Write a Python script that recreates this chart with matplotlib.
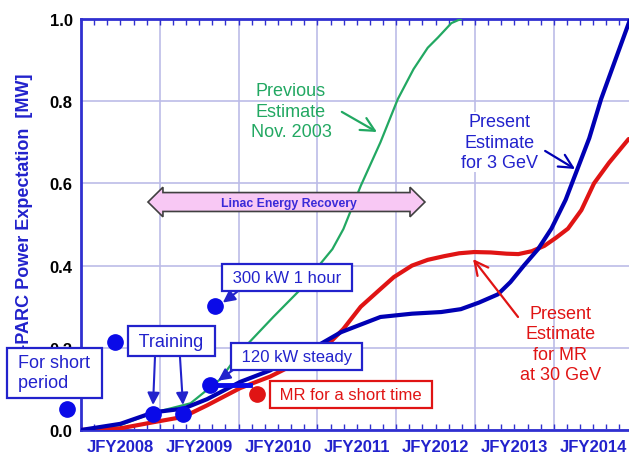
import matplotlib
matplotlib.use("Agg")
import matplotlib.pyplot as plt
from matplotlib.ticker import MultipleLocator, FixedLocator
from matplotlib.patches import Polygon
from matplotlib import transforms

plt.rcParams['font.family'] = ['Liberation Sans', 'DejaVu Sans']

# ---------------- data ----------------
years = [2008, 2009, 2010, 2011, 2012, 2013, 2014]
year_labels = ['JFY2008', 'JFY2009', 'JFY2010', 'JFY2011', 'JFY2012', 'JFY2013', 'JFY2014']
y_ticks = [0.0, 0.2, 0.4, 0.6, 0.8, 1.0]

prev_x = [2008.0, 2008.5, 2008.92, 2009.39, 2009.77, 2010.02, 2010.44, 2010.79,
          2011.04, 2011.19, 2011.33, 2011.55, 2011.8, 2012.02, 2012.22, 2012.4,
          2012.53, 2012.7, 2012.82]
prev_y = [0.0, 0.012, 0.042, 0.065, 0.124, 0.19, 0.275, 0.343,
          0.405, 0.44, 0.489, 0.594, 0.70, 0.805, 0.878, 0.93,
          0.955, 0.99, 1.0]

gev3_x = [2008.0, 2008.5, 2008.92, 2009.3, 2009.6, 2010.02, 2010.4, 2010.66,
          2011.0, 2011.3, 2011.8, 2012.2, 2012.57, 2012.82, 2013.05, 2013.29,
          2013.45, 2013.62, 2013.8, 2013.97, 2014.15, 2014.31, 2014.45, 2014.6,
          2014.78, 2014.97]
gev3_y = [0.0, 0.015, 0.043, 0.052, 0.075, 0.117, 0.145, 0.173,
          0.205, 0.238, 0.275, 0.283, 0.287, 0.294, 0.31, 0.33,
          0.36, 0.40, 0.44, 0.49, 0.56, 0.64, 0.71, 0.805,
          0.9, 1.0]

mr_x = [2008.0, 2008.5, 2008.92, 2009.3, 2009.6, 2010.02, 2010.4, 2010.66,
        2011.0, 2011.17, 2011.33, 2011.55, 2011.8, 2011.97, 2012.2, 2012.4,
        2012.61, 2012.8, 2012.99, 2013.2, 2013.4, 2013.55, 2013.72, 2013.88,
        2014.03, 2014.18, 2014.35, 2014.51, 2014.7, 2014.95]
mr_y = [0.0, 0.004, 0.019, 0.032, 0.06, 0.102, 0.13, 0.155,
        0.195, 0.215, 0.246, 0.30, 0.343, 0.372, 0.40, 0.414,
        0.423, 0.43, 0.433, 0.432, 0.429, 0.428, 0.435, 0.448,
        0.468, 0.49, 0.535, 0.60, 0.65, 0.708]

dots_x = [2007.82, 2008.43, 2008.914, 2009.294, 2009.70, 2009.637]
dots_y = [0.051, 0.214, 0.039, 0.039, 0.302, 0.1095]
mr_dot_x = [2010.233]
mr_dot_y = [0.0876]
steady_x = [2009.637, 2010.15]
steady_y = [0.1095, 0.1095]

# ---------------- styles ----------------
BLUE_TXT = '#2222cc'
BLUE_LINE = '#0000b4'
DOT_BLUE = '#0a0ae8'
RED = '#e01414'
GREEN = '#22a862'
GRID = '#bcbce8'
SPINE = '#3030d0'

fig = plt.figure(figsize=(6.29, 4.60), dpi=100)
ax = fig.add_axes([81 / 629, 29 / 460, 551.6 / 629, 411 / 460])
ax.set_xlim(2008, 2015)
ax.set_ylim(0, 1.0)

# grid / ticks
ax.xaxis.set_major_locator(FixedLocator(years + [2015]))
ax.xaxis.set_minor_locator(MultipleLocator(1 / 6))
ax.set_xticklabels([])
ax.set_yticks(y_ticks)
ax.set_yticklabels([f"{v:.1f}" for v in y_ticks], fontsize=12, fontweight='bold')
ax.tick_params(axis='y', length=0, pad=6)
ax.tick_params(axis='x', which='both', direction='in', top=True, bottom=True,
               length=4, color=SPINE, width=1)
ax.grid(True, which='major', color=GRID, lw=1.2)
ax.set_axisbelow(True)
for s in ['left', 'top', 'bottom']:
    ax.spines[s].set_color(SPINE)
    ax.spines[s].set_linewidth(2)
ax.spines['right'].set_visible(False)

trans = transforms.blended_transform_factory(ax.transData, ax.transAxes)
for yr, lab in zip(years, year_labels):
    ax.text(yr + 0.5, -0.039, lab, transform=trans, ha='center', va='center',
            fontsize=12, fontweight='bold', color=BLUE_TXT)

ax.set_ylabel('J-PARC Power Expectation  [MW]', fontsize=13, fontweight='bold',
              color=BLUE_TXT)
ax.yaxis.set_label_coords(-0.087, 0.522)

# curves
ax.plot(prev_x, prev_y, color=GREEN, lw=1.6, zorder=3)
ax.plot(mr_x, mr_y, color=RED, lw=3, zorder=3, solid_capstyle='round')
ax.plot(gev3_x, gev3_y, color=BLUE_LINE, lw=3, zorder=3.1, solid_capstyle='round')
ax.plot(steady_x, steady_y, color=DOT_BLUE, lw=3.5, zorder=4)
ax.plot(dots_x, dots_y, 'o', color=DOT_BLUE, ms=11, zorder=5, clip_on=False)
ax.plot(mr_dot_x, mr_dot_y, 'o', color=RED, ms=11, zorder=5, clip_on=False)

# Linac Energy Recovery double arrow
cy = 0.5547
bh, hh = 0.023, 0.036
x0, x1, hl = 2008.85, 2012.365, 0.19
poly = [(x0, cy), (x0 + hl, cy + hh), (x0 + hl, cy + bh), (x1 - hl, cy + bh),
        (x1 - hl, cy + hh), (x1, cy), (x1 - hl, cy - hh), (x1 - hl, cy - bh),
        (x0 + hl, cy - bh), (x0 + hl, cy - hh)]
ax.add_patch(Polygon(poly, closed=True, fc='#f8c8f4', ec='#404040', lw=1.2, zorder=4))
ax.text(2010.64, 0.552, 'Linac Energy Recovery', ha='center', va='center',
        fontsize=8.8, fontweight='bold', color='#3a2ad8', zorder=5)

# boxes
def box(x, y, s, color, fs=12, ha='center'):
    ax.text(x, y, s, ha=ha, va='center', fontsize=fs, color=color, zorder=6,
            linespacing=1.25,
            bbox=dict(boxstyle='square,pad=0.35', fc='white', ec=color, lw=1.6))

box(2007.66, 0.139, ' For short \n period', BLUE_TXT, fs=13)
ax.texts[-1].set_multialignment('left')
box(2009.148, 0.2165, ' Training ', BLUE_TXT, fs=13)
box(2010.614, 0.371, ' 300 kW 1 hour ', BLUE_TXT)
box(2010.735, 0.179, ' 120 kW steady ', BLUE_TXT)
box(2011.426, 0.0864, ' MR for a short time ', RED)

# arrows
def filled_arrow(xs, ys, xe, ye, color):
    ax.annotate('', xy=(xe, ye), xytext=(xs, ys), zorder=6,
                arrowprops=dict(arrowstyle='-|>,head_length=0.6,head_width=0.3',
                                color=color, lw=1.5, mutation_scale=12,
                                shrinkA=0, shrinkB=0))

def open_arrow(xs, ys, xe, ye, color):
    ax.annotate('', xy=(xe, ye), xytext=(xs, ys), zorder=6,
                arrowprops=dict(arrowstyle='->,head_length=0.7,head_width=0.35',
                                color=color, lw=1.6, mutation_scale=14,
                                shrinkA=0, shrinkB=0))

filled_arrow(2008.939, 0.178, 2008.914, 0.061, BLUE_TXT)
filled_arrow(2009.256, 0.178, 2009.294, 0.061, BLUE_TXT)
filled_arrow(2009.98, 0.336, 2009.80, 0.31, BLUE_TXT)
filled_arrow(2009.93, 0.146, 2009.74, 0.12, BLUE_TXT)

# annotation texts
ax.text(2010.665, 0.776, 'Previous\nEstimate\nNov. 2003', ha='center', va='center',
        fontsize=13, color=GREEN, linespacing=1.25, zorder=6)
open_arrow(2011.31, 0.774, 2011.756, 0.725, GREEN)

ax.text(2013.317, 0.7007, 'Present\nEstimate\nfor 3 GeV', ha='center', va='center',
        fontsize=13, color=BLUE_TXT, linespacing=1.25, zorder=6,
        bbox=dict(boxstyle='square,pad=0.05', fc='white', ec='none'))
open_arrow(2013.89, 0.679, 2014.27, 0.635, BLUE_LINE)

ax.text(2014.08, 0.209, 'Present\nEstimate\nfor MR\nat 30 GeV', ha='center', va='center',
        fontsize=13, color=RED, linespacing=1.25, zorder=6)
open_arrow(2013.546, 0.275, 2012.975, 0.416, RED)

fig.savefig('out.png', dpi=100)
